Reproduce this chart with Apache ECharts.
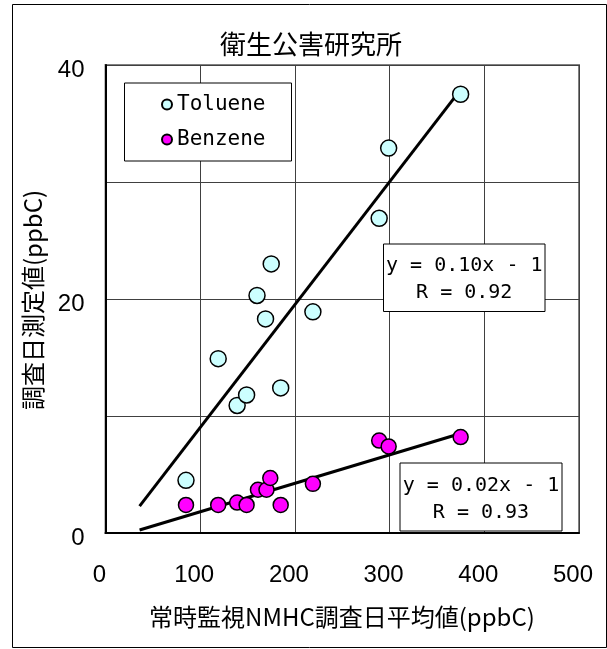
<!DOCTYPE html>
<html>
<head>
<meta charset="utf-8">
<script src="https://cdn.jsdelivr.net/npm/echarts@6/dist/echarts.min.js"></script>
<style>
html,body{margin:0;padding:0;background:#fff;}
#chart{width:607px;height:649px;}
</style>
</head>
<body>
<div id="chart"></div>
<script>
// ---- data ----
const titleText = '衛生公害研究所';
const xAxisTitle = '常時監視NMHC調査日平均値(ppbC)';
const yAxisTitle = '調査日測定値(ppbC)';
const seriesNames = ['Toluene', 'Benzene'];
const xTicks = [0, 100, 200, 300, 400, 500];
const yTicks = [0, 20, 40];
const tolueneX = [85, 119, 139, 149, 160, 169, 175, 185, 219, 289, 299, 375];
const tolueneY = [4.5, 14.9, 10.9, 11.8, 20.3, 18.3, 23.0, 12.4, 18.9, 26.9, 32.9, 37.5];
const benzeneX = [85, 119, 139, 149, 161, 170, 174, 185, 219, 289, 299, 375];
const benzeneY = [2.4, 2.4, 2.6, 2.4, 3.7, 3.7, 4.7, 2.4, 4.2, 7.9, 7.4, 8.2];
const tolueneFitX = [36, 375];
const tolueneFitY = [2.3, 37.9];
const benzeneFitX = [36, 375];
const benzeneFitY = [0.26, 8.5];
const tolueneEq = ['y = 0.10x - 1', 'R = 0.92'];
const benzeneEq = ['y = 0.02x - 1', 'R = 0.93'];

const zip = (a, b) => a.map((v, i) => [v, b[i]]);
const CJK = '"Noto Sans CJK JP", "Noto Sans CJK SC", sans-serif';
const MONO = '"DejaVu Sans Mono", monospace';
const NUM = '"Liberation Sans", Arial, sans-serif';

const chart = echarts.init(document.getElementById('chart'), null, {renderer: 'canvas'});

function eqBox(x, y, w, h, lines) {
  return {
    type: 'group',
    children: [
      {type: 'rect', shape: {x: x, y: y, width: w, height: h},
       style: {fill: '#fff', stroke: '#000', lineWidth: 1}, z: 10},
      {type: 'text', x: x + w / 2, y: y + h * 0.33, z: 11,
       style: {text: lines[0], font: '20px ' + MONO, fill: '#000', textAlign: 'center', textVerticalAlign: 'middle'}},
      {type: 'text', x: x + w / 2, y: y + h * 0.73, z: 11,
       style: {text: lines[1], font: '20px ' + MONO, fill: '#000', textAlign: 'center', textVerticalAlign: 'middle'}}
    ]
  };
}

const option = {
  backgroundColor: '#fff',
  animation: false,
  grid: {left: 105.5, top: 65, right: 28, bottom: 116, show: true,
         borderColor: '#808080', borderWidth: 2, backgroundColor: 'transparent'},
  xAxis: {
    type: 'value', min: xTicks[0], max: xTicks[xTicks.length - 1], interval: 100,
    axisLine: {show: true, onZero: false, lineStyle: {color: '#000', width: 2}},
    axisTick: {show: false},
    splitLine: {show: true, lineStyle: {color: '#404040', width: 1}},
    axisLabel: {fontFamily: NUM, fontSize: 24, color: '#000', margin: 30,
                padding: [0, 12, 0, 0],
                formatter: v => xTicks.includes(v) ? String(v) : ''}
  },
  yAxis: {
    type: 'value', min: 0, max: 40, interval: 10,
    axisLine: {show: true, onZero: false, lineStyle: {color: '#000', width: 2}},
    axisTick: {show: false},
    splitLine: {show: true, lineStyle: {color: '#404040', width: 1}},
    axisLabel: {color: '#000', margin: 21,
                formatter: v => yTicks.includes(v) ? '{a|' + v + '}' : '',
                rich: {a: {fontFamily: NUM, fontSize: 24, color: '#000', padding: [10, 0, 0, 0]}}}
  },
  legend: {
    data: seriesNames, orient: 'vertical', left: 161, top: 94, padding: 0,
    itemWidth: 10, itemHeight: 10, itemGap: 14, icon: 'circle',
    textStyle: {fontFamily: MONO, fontSize: 21, color: '#000'},
    z: 12
  },
  series: [
    {
      name: 'TolueneFit', type: 'line', data: zip(tolueneFitX, tolueneFitY),
      showSymbol: false, symbol: 'none', lineStyle: {color: '#000', width: 3}, z: 2, silent: true
    },
    {
      name: 'BenzeneFit', type: 'line', data: zip(benzeneFitX, benzeneFitY),
      showSymbol: false, symbol: 'none', lineStyle: {color: '#000', width: 3}, z: 2, silent: true
    },
    {
      name: seriesNames[0], type: 'scatter', data: zip(tolueneX, tolueneY),
      symbol: 'circle', symbolSize: 16,
      itemStyle: {color: '#CCFFFF', borderColor: '#000', borderWidth: 1.5, opacity: 1}, z: 3
    },
    {
      name: seriesNames[1], type: 'scatter', data: zip(benzeneX, benzeneY),
      symbol: 'circle', symbolSize: 15,
      itemStyle: {color: '#FF00FF', borderColor: '#000', borderWidth: 1.5, opacity: 1}, z: 4
    }
  ],
  graphic: [
    {type: 'rect', shape: {x: 12.5, y: 4.5, width: 594, height: 643},
     style: {fill: 'none', stroke: '#000', lineWidth: 1}, z: 0, silent: true},
    {type: 'text', x: 311, y: 44, z: 20,
     style: {text: titleText, font: '26px ' + CJK, fill: '#000', textAlign: 'center', textVerticalAlign: 'middle'}},
    {type: 'text', x: 342, y: 617, z: 20,
     style: {text: xAxisTitle, font: '24px ' + CJK, fill: '#000', textAlign: 'center', textVerticalAlign: 'middle'}},
    {type: 'text', x: 33, y: 300, rotation: Math.PI / 2, z: 20,
     style: {text: yAxisTitle, font: '24px ' + CJK, fill: '#000', textAlign: 'center', textVerticalAlign: 'middle'}},
    {type: 'rect', shape: {x: 124.5, y: 83, width: 167, height: 78},
     style: {fill: '#fff', stroke: '#000', lineWidth: 1}, z: 5},
    eqBox(383.5, 244, 161.5, 67.5, tolueneEq),
    eqBox(400, 463, 162, 68, benzeneEq)
  ]
};
chart.setOption(option);
</script>
</body>
</html>
